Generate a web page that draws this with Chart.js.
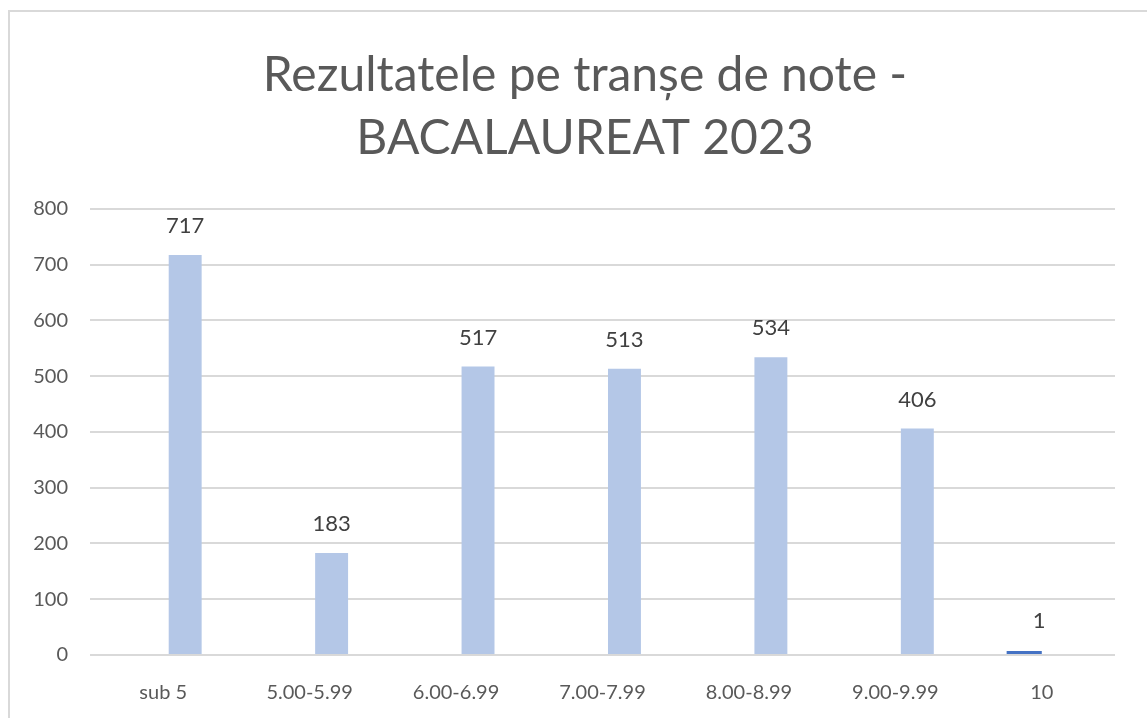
<!DOCTYPE html>
<html>
<head>
<meta charset="utf-8">
<script src="https://cdn.jsdelivr.net/npm/chart.js@4"></script>
<style>
  html, body { margin: 0; padding: 0; background: #fff; }
  #wrap { position: relative; width: 1147px; height: 718px; overflow: hidden; }
  #frame { position: absolute; left: 8px; top: 10px; width: 1200px; height: 800px; border: 2px solid #d9d9d9; pointer-events: none; }
  canvas { position: absolute; left: 0; top: 0; }
</style>
</head>
<body>
<div id="wrap">
  <canvas id="chart" width="1147" height="718"></canvas>
  <div id="frame"></div>
</div>
<script>
// categoriile de note
const categories = ["sub 5", "5.00-5.99", "6.00-6.99", "7.00-7.99", "8.00-8.99", "9.00-9.99", "10"];
// numar de candidati pe transe
const mainValues = [717, 183, 517, 513, 534, 406, null];
// nota 10 - evidentiata separat
const highlightValues = [null, null, null, null, null, null, 1];

const titleLines = ["Rezultatele pe tranșe de note -", "BACALAUREAT 2023"];

const FONT = "Lato, 'Open Sans', sans-serif";

// etichete cu valori deasupra barelor
const valueLabels = {
  id: "valueLabels",
  afterLayout(chart) {
    // titlul e putin mutat spre dreapta in original
    if (chart.titleBlock) {
      chart.titleBlock.left += 45;
    }
  },
  afterDatasetsDraw(chart) {
    const g = chart.ctx;
    g.save();
    g.font = "22px " + FONT;
    g.fillStyle = "#404040";
    g.textAlign = "center";
    g.textBaseline = "middle";
    chart.data.datasets.forEach((ds, di) => {
      const meta = chart.getDatasetMeta(di);
      meta.data.forEach((bar, i) => {
        const v = ds.data[i];
        if (v === null || v === undefined) return;
        const dx = di === 0 ? 15 : 0;
        g.fillText(String(v), bar.x + dx, Math.min(bar.y, bar.base - 4) - 29);
      });
    });
    g.restore();
  },
};

new Chart(document.getElementById("chart"), {
  type: "bar",
  data: {
    labels: categories,
    datasets: [
      {
        data: highlightValues,
        backgroundColor: "#4472C4",
        minBarLength: 4,
        categoryPercentage: 0.48,
        barPercentage: 1.0,
      },
      {
        data: mainValues,
        backgroundColor: "#B4C7E7",
        categoryPercentage: 0.6,
        barPercentage: 0.75,
      },
    ],
  },
  options: {
    responsive: false,
    animation: false,
    layout: { padding: { left: 10, right: 32, top: 20, bottom: 0 } },
    plugins: {
      legend: { display: false },
      tooltip: { enabled: false },
      title: {
        display: true,
        text: titleLines,
        color: "#595959",
        font: { family: FONT, size: 48, weight: "normal", lineHeight: 1.31 },
        padding: { top: 24, bottom: 39 },
      },
    },
    scales: {
      x: {
        grid: { display: false },
        border: { display: false },
        ticks: {
          color: "#595959",
          font: { family: FONT, size: 20 },
          padding: 18,
          maxRotation: 0,
        },
        afterFit(scale) {
          scale.height = 63;
        },
      },
      y: {
        min: 0,
        max: 800,
        ticks: {
          stepSize: 100,
          color: "#595959",
          font: { family: FONT, size: 20 },
          padding: 22,
        },
        grid: { color: "#d9d9d9", lineWidth: 2, drawTicks: false },
        border: { display: false },
        afterFit(scale) {
          scale.width = 80;
        },
      },
    },
  },
  plugins: [valueLabels],
});
</script>
</body>
</html>
